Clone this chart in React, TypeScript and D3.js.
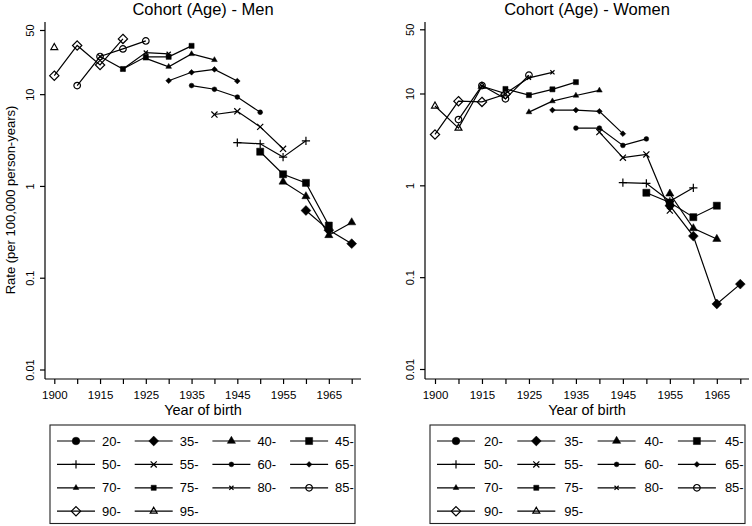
import React, { useRef, useEffect } from "react";
import * as d3 from "d3";

// birth cohorts on the x axis (only every other one is labelled)
const cohorts = ["1900", "1910", "1915", "1920", "1925", "1930", "1935", "1940", "1945", "1950", "1955", "1960", "1965", "1970"];
const cohortLabels = ["1900", "1915", "1925", "1935", "1945", "1955", "1965"];
const ageGroups = ["20-", "35-", "40-", "45-", "50-", "55-", "60-", "65-", "70-", "75-", "80-", "85-", "90-", "95-"];
const yTicks = [0.01, 0.1, 1, 10, 50];

const _ = null;
// Men, rate per 100,000 person-years, by cohort index
const men20 = [_, _, _, _, _, _, _, _, _, _, _, _, _, _];
const men35 = [_, _, _, _, _, _, _, _, _, _, _, 0.54, 0.33, 0.235];
const men40 = [_, _, _, _, _, _, _, _, _, _, 1.11, 0.77, 0.29, 0.4];
const men45 = [_, _, _, _, _, _, _, _, _, 2.36, 1.34, 1.08, 0.37, _];
const men50 = [_, _, _, _, _, _, _, _, 2.96, 2.88, 2.06, 3.1, _, _];
const men55 = [_, _, _, _, _, _, _, 6.0, 6.5, 4.4, 2.54, _, _, _];
const men60 = [_, _, _, _, _, _, 12.4, 11.3, 9.3, 6.35, _, _, _, _];
const men65 = [_, _, _, _, _, 14, 17.3, 18.6, 13.9, _, _, _, _, _];
const men70 = [_, _, _, _, 24.5, 19.9, 27.4, 23.6, _, _, _, _, _, _];
const men75 = [_, _, _, 18.8, 25.5, 25.5, 33.6, _, _, _, _, _, _, _];
const men80 = [_, _, 25.7, 18.8, 28.4, 27.5, _, _, _, _, _, _, _, _];
const men85 = [_, 12.4, 25.7, 31.1, 38, _, _, _, _, _, _, _, _, _];
const men90 = [15.9, 33.9, 20.8, 40, _, _, _, _, _, _, _, _, _, _];
const men95 = [32.2, _, _, _, _, _, _, _, _, _, _, _, _, _];

// Women
const women20 = [_, _, _, _, _, _, _, _, _, _, _, _, _, _];
const women35 = [_, _, _, _, _, _, _, _, _, _, 0.6, 0.28, 0.051, 0.084];
const women40 = [_, _, _, _, _, _, _, _, _, _, 0.81, 0.34, 0.26, _];
const women45 = [_, _, _, _, _, _, _, _, _, 0.83, 0.65, 0.45, 0.6, _];
const women50 = [_, _, _, _, _, _, _, _, 1.07, 1.05, 0.67, 0.94, _, _];
const women55 = [_, _, _, _, _, _, _, 3.8, 2.0, 2.17, 0.53, _, _, _];
const women60 = [_, _, _, _, _, _, 4.2, 4.2, 2.72, 3.2, _, _, _, _];
const women65 = [_, _, _, _, _, 6.6, 6.6, 6.4, 3.65, _, _, _, _, _];
const women70 = [_, _, _, _, 6.27, 8.25, 9.5, 10.8, _, _, _, _, _, _];
const women75 = [_, _, _, 11.2, 9.6, 11.1, 13.3, _, _, _, _, _, _, _];
const women80 = [_, _, 12, 10, 14.8, 17, _, _, _, _, _, _, _, _];
const women85 = [_, 5.2, 12.2, 8.75, 15.8, _, _, _, _, _, _, _, _, _];
const women90 = [3.58, 8.25, 8.1, 9.8, _, _, _, _, _, _, _, _, _, _];
const women95 = [7.3, 4.2, 12, _, _, _, _, _, _, _, _, _, _, _];

const menSeries = [men20, men35, men40, men45, men50, men55, men60, men65, men70, men75, men80, men85, men90, men95];
const womenSeries = [women20, women35, women40, women45, women50, women55, women60, women65, women70, women75, women80, women85, women90, women95];

// marker look for each age group (same order as ageGroups)
const markers: { type: any; size: number; filled: boolean }[] = [
  { type: d3.symbolCircle, size: 46, filled: true },
  { type: d3.symbolDiamond2, size: 62, filled: true },
  { type: d3.symbolTriangle, size: 29, filled: true },
  { type: d3.symbolSquare, size: 50, filled: true },
  { type: d3.symbolPlus, size: 24, filled: false },
  { type: d3.symbolTimes, size: 26, filled: false },
  { type: d3.symbolCircle, size: 18, filled: true },
  { type: d3.symbolDiamond2, size: 21, filled: true },
  { type: d3.symbolTriangle, size: 14, filled: true },
  { type: d3.symbolSquare, size: 26, filled: true },
  { type: d3.symbolTimes, size: 13, filled: false },
  { type: d3.symbolCircle, size: 34, filled: false },
  { type: d3.symbolDiamond2, size: 55, filled: false },
  { type: d3.symbolTriangle2, size: 34, filled: false },
];

const FONT = "'Liberation Sans', Arial, Helvetica, sans-serif";

const panels = [
  {
    title: "Cohort (Age) - Men", series: menSeries, axisX: 45, axisEnd: 361, px: [54.3, 351.7], yr: [369.5, 30],
    yTitle: true, legendX: 50, legendW: 305, col0: 57, colStep: 77.7, textOff: 45,
  },
  {
    title: "Cohort (Age) - Women", series: womenSeries, axisX: 425, axisEnd: 749, px: [435, 740.3], yr: [369, 29.3],
    yTitle: false, legendX: 430, legendW: 315, col0: 437, colStep: 80.3, textOff: 47,
  },
];

function drawMarker(g: any, m: any, cx: number, cy: number) {
  g.append("path")
    .attr("d", d3.symbol().type(m.type).size(m.size)())
    .attr("transform", `translate(${cx},${cy})`)
    .attr("fill", m.filled ? "#000" : "none")
    .attr("stroke", "#000")
    .attr("stroke-width", m.filled ? 0.5 : 1.2);
}

function drawPanel(svg: any, p: any) {
  const g = svg.append("g");
  const x = d3.scalePoint<string>().domain(cohorts).range(p.px);
  const y = d3.scaleLog().domain([0.01, 50]).range(p.yr);
  const axisY = 379;

  // title
  g.append("text")
    .attr("x", (p.axisX + p.axisEnd) / 2).attr("y", 15)
    .attr("text-anchor", "middle").attr("font-size", 16.5).text(p.title);

  // axis lines
  g.append("line").attr("x1", p.axisX).attr("x2", p.axisX).attr("y1", 22).attr("y2", axisY)
    .attr("stroke", "#000").attr("stroke-width", 1.2);
  g.append("line").attr("x1", p.axisX).attr("x2", p.axisEnd).attr("y1", axisY).attr("y2", axisY)
    .attr("stroke", "#000").attr("stroke-width", 1.2);

  const xAxis = d3.axisBottom(x).tickSize(5).tickSizeOuter(0)
    .tickFormat((d: string) => (cohortLabels.includes(d) ? d : ""));
  const xg = g.append("g").attr("transform", `translate(0,${axisY})`).call(xAxis);
  xg.select(".domain").remove();
  xg.selectAll("line").attr("stroke-width", 1.2);
  xg.selectAll("text").attr("y", 19.5).attr("dy", null).attr("font-size", 11.5).attr("font-family", FONT).attr("fill", "#000");

  const yAxis = d3.axisLeft(y).tickValues(yTicks).tickSize(5).tickSizeOuter(0)
    .tickFormat((d: any) => String(d));
  const yg = g.append("g").attr("transform", `translate(${p.axisX},0)`).call(yAxis);
  yg.select(".domain").remove();
  yg.selectAll("line").attr("stroke-width", 1.2);
  yg.selectAll("text")
    .attr("transform", "rotate(-90)").attr("x", 0).attr("y", -11).attr("dy", null)
    .attr("text-anchor", "middle").attr("font-size", 11).attr("font-family", FONT).attr("fill", "#000");

  g.append("text")
    .attr("x", (p.axisX + p.axisEnd) / 2).attr("y", 414.5)
    .attr("text-anchor", "middle").attr("font-size", 14.5).text("Year of birth");

  if (p.yTitle) {
    g.append("text")
      .attr("transform", "translate(14.5,200) rotate(-90)")
      .attr("text-anchor", "middle").attr("font-size", 13).text("Rate (per 100,000 person-years)");
  }

  const lineGen = d3.line<{ c: string; v: number }>().x((d) => x(d.c) as number).y((d) => y(d.v));

  p.series.forEach((vals: (number | null)[], si: number) => {
    const pts = cohorts.map((c, i) => ({ c, v: vals[i] as number })).filter((d) => d.v != null);
    if (!pts.length) return;
    g.append("path").attr("d", lineGen(pts)).attr("fill", "none").attr("stroke", "#000").attr("stroke-width", 1.2);
    pts.forEach((d) => drawMarker(g, markers[si], x(d.c) as number, y(d.v)));
  });

  // legend
  const lg = g.append("g");
  lg.append("rect").attr("x", p.legendX).attr("y", 425).attr("width", p.legendW).attr("height", 98.5)
    .attr("fill", "none").attr("stroke", "#222").attr("stroke-width", 1.1);
  ageGroups.forEach((a, i) => {
    const col = i % 4;
    const row = Math.floor(i / 4);
    const lx = p.col0 + col * p.colStep;
    const ly = 441 + row * 23.4;
    lg.append("line").attr("x1", lx).attr("x2", lx + 38).attr("y1", ly).attr("y2", ly)
      .attr("stroke", "#000").attr("stroke-width", 1.2);
    drawMarker(lg, markers[i], lx + 19, ly);
    lg.append("text").attr("x", lx + p.textOff).attr("y", ly + 4.5).attr("font-size", 13).text(a);
  });
}

export default function App() {
  const svgRef = useRef<SVGSVGElement>(null);

  useEffect(() => {
    const svg = d3.select(svgRef.current);
    svg.selectAll("*").remove();
    panels.forEach((p) => drawPanel(svg, p));
  }, []);

  return (
    <svg
      ref={svgRef}
      width={752}
      height={526}
      style={{ position: "absolute", left: 0, top: 0, background: "#fff" }}
      fontFamily={FONT}
    />
  );
}
